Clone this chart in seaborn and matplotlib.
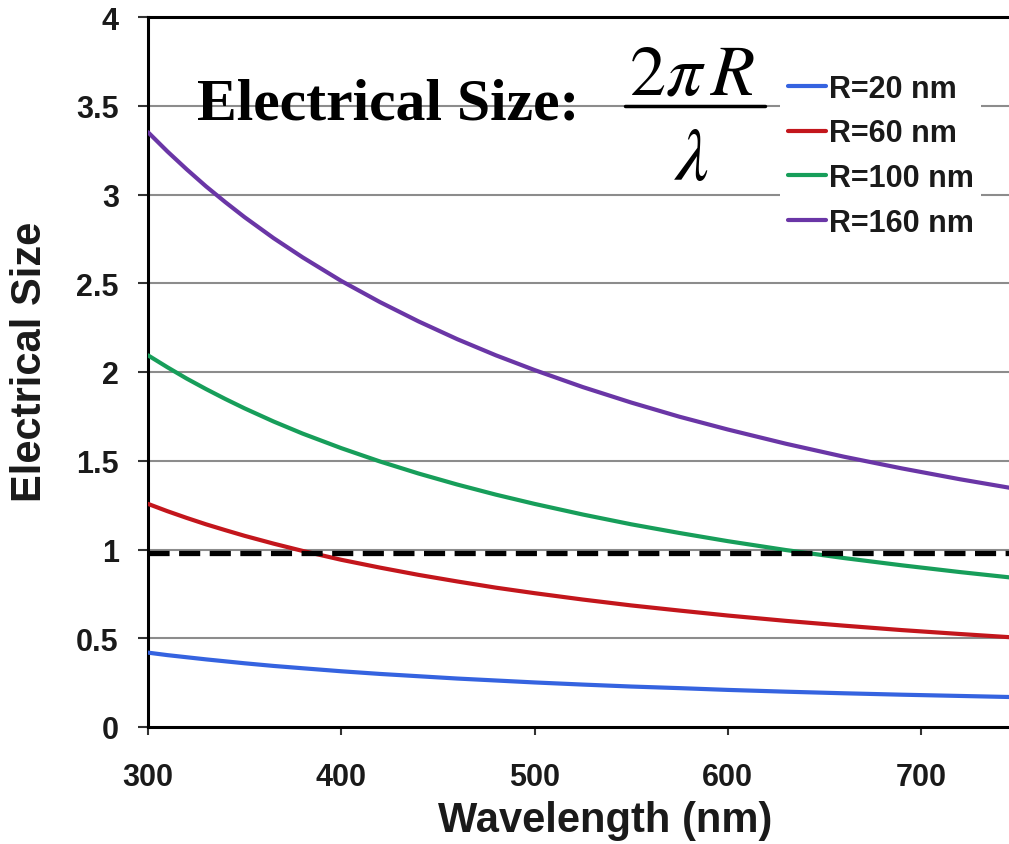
import numpy as np
import pandas as pd
import matplotlib
matplotlib.use("Agg")
import matplotlib.pyplot as plt
from matplotlib.lines import Line2D
import seaborn as sns

# ---- data ----
wavelength = [300, 310, 320, 330, 340, 350, 365, 380, 400, 420, 440, 460,
              480, 500, 525, 550, 575, 600, 630, 660, 690, 720, 750]
r20 = [0.419, 0.405, 0.393, 0.381, 0.370, 0.359, 0.344, 0.331, 0.314, 0.299,
       0.286, 0.273, 0.262, 0.251, 0.239, 0.228, 0.219, 0.209, 0.199, 0.190,
       0.182, 0.175, 0.168]
r60 = [1.257, 1.216, 1.178, 1.142, 1.109, 1.077, 1.033, 0.992, 0.942, 0.898,
       0.857, 0.820, 0.785, 0.754, 0.718, 0.685, 0.656, 0.628, 0.598, 0.571,
       0.546, 0.524, 0.503]
r100 = [2.094, 2.027, 1.963, 1.904, 1.848, 1.795, 1.721, 1.653, 1.571, 1.496,
        1.428, 1.366, 1.309, 1.257, 1.197, 1.142, 1.093, 1.047, 0.997, 0.952,
        0.911, 0.873, 0.838]
r160 = [3.351, 3.243, 3.142, 3.046, 2.957, 2.872, 2.754, 2.646, 2.513, 2.394,
        2.285, 2.185, 2.094, 2.011, 1.915, 1.828, 1.748, 1.676, 1.596, 1.523,
        1.457, 1.396, 1.340]
series_labels = ["R=20 nm", "R=60 nm", "R=100 nm", "R=160 nm"]
series_values = [r20, r60, r100, r160]
threshold = 0.98
x_ticks = [300, 400, 500, 600, 700]
y_ticks = [0, 0.5, 1, 1.5, 2, 2.5, 3, 3.5, 4]
y_tick_labels = ["0", "0.5", "1", "1.5", "2", "2.5", "3", "3.5", "4"]

colors = ["#3563E0", "#C3161C", "#179E5A", "#6A36A6"]

rows = []
for lab, vals in zip(series_labels, series_values):
    for w, v in zip(wavelength, vals):
        rows.append({"Wavelength": w, "Size": v, "Series": lab})
df = pd.DataFrame(rows)

sns.set_theme(style="white")
plt.rcParams["font.family"] = ["Liberation Sans", "DejaVu Sans"]
plt.rcParams["mathtext.fontset"] = "stix"

W, H = 1009, 845
fig = plt.figure(figsize=(W / 100, H / 100), dpi=100)
fig.patch.set_facecolor("white")
ax = fig.add_axes([148 / W, (H - 728) / H, (W - 148) / W, (728 - 18) / H])

for yv in y_ticks[1:-1]:
    ax.axhline(yv, color="#8c8c8c", lw=1.5, zorder=0)

sns.lineplot(data=df, x="Wavelength", y="Size", hue="Series",
             hue_order=series_labels, palette=colors, lw=3.0, ax=ax,
             zorder=3)

ax.axhline(threshold, color="black", lw=3.8, ls=(0, (4, 1.8)), zorder=4)

ax.set_xlim(300, 745.5)
ax.set_ylim(0, 4)
ax.set_xticks(x_ticks)
ax.set_xticklabels([str(t) for t in x_ticks])
ax.set_yticks(y_ticks)
ax.set_yticklabels(y_tick_labels)

for s in ["left", "bottom", "top"]:
    ax.spines[s].set_visible(True)
    ax.spines[s].set_color("black")
    ax.spines[s].set_linewidth(2.2)
ax.spines["right"].set_visible(False)

ax.tick_params(axis="y", direction="out", length=7, width=1.5, color="#333333",
               pad=14, labelsize=22, left=True)
ax.tick_params(axis="x", direction="out", length=6, width=1.5, color="#333333",
               pad=19, labelsize=22, bottom=True)
for lbl in ax.get_xticklabels() + ax.get_yticklabels():
    lbl.set_fontweight("bold")
    lbl.set_color("#1a1a1a")

ax.set_xlabel("Wavelength (nm)", fontsize=30, fontweight="bold", color="#1a1a1a")
ax.set_ylabel("Electrical Size", fontsize=30, fontweight="bold", color="#1a1a1a")
# label centres (pixel positions)
ax.xaxis.set_label_coords((605 - 148) / (W - 148), -(821 - 728) / (728 - 18))
ax.xaxis.label.set_va("center")
ax.yaxis.set_label_coords(-(148 - 30) / (W - 148), (728 - 362) / (728 - 18))
ax.yaxis.label.set_va("center")

handles, labels = ax.get_legend_handles_labels()
leg = ax.legend(handles, labels, loc="upper left",
                bbox_to_anchor=(780 / W, 1 - 67 / H), bbox_transform=fig.transFigure,
                frameon=True, facecolor="white", edgecolor="none", framealpha=1,
                fancybox=False, borderpad=0.25, borderaxespad=0,
                handlelength=1.25, handletextpad=0.1, labelspacing=0.48,
                prop={"family": "Liberation Sans", "weight": "bold", "size": 22})
for t in leg.get_texts():
    t.set_color("#1a1a1a")
for h in leg.legend_handles:
    h.set_linewidth(3.0)
leg.set_zorder(5)

# annotation: Electrical Size: 2πR / λ
fig.text(197 / W, 1 - 120 / H, "Electrical Size:", fontsize=43, fontweight="bold",
         family=["Liberation Serif", "DejaVu Serif"], color="black",
         ha="left", va="baseline", zorder=10)
fig.text(692 / W, 1 - 95 / H, r"$2\pi\,R$", fontsize=52, color="black",
         ha="center", va="baseline", zorder=10)
fig.text(692 / W, 1 - 180 / H, r"$\lambda$", fontsize=54, color="black",
         ha="center", va="baseline", zorder=10)
fig.add_artist(Line2D([625 / W, 765 / W], [1 - 107 / H, 1 - 107 / H],
                      color="black", lw=2.5, transform=fig.transFigure, zorder=10))

fig.savefig("out.png", dpi=100, facecolor="white")
